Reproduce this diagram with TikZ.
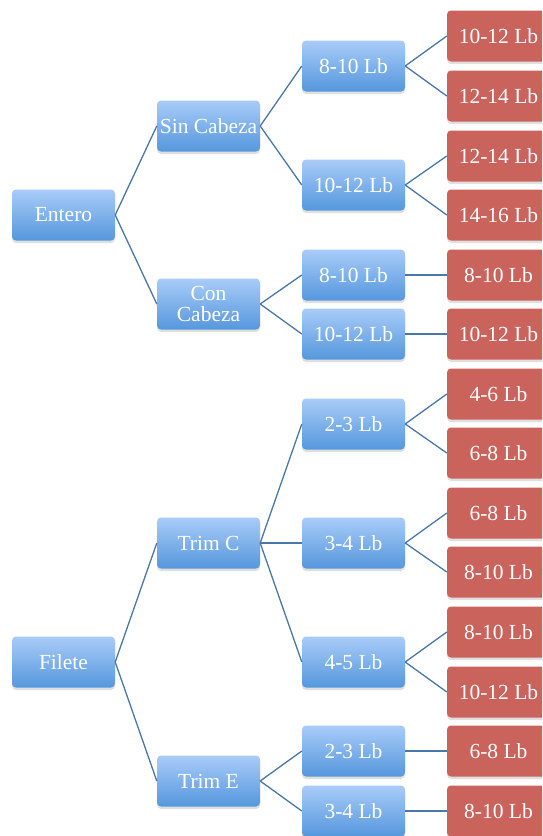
\documentclass[tikz,border=0pt]{standalone}
\usepackage{fontspec}
\setmainfont{Liberation Serif}
\usetikzlibrary{shadows}
\definecolor{bluetop}{HTML}{A9CCF8}
\definecolor{bluebot}{HTML}{5597DD}
\definecolor{redbox}{HTML}{CB635D}
\definecolor{linkcol}{HTML}{4A76A8}
\begin{document}
\begin{tikzpicture}[x=1pt,y=-1pt,
  box/.style={rounded corners=4pt, minimum width=103pt, minimum height=51pt,
    inner sep=1pt, align=center, text=white,
    font=\fontsize{21.5}{21}\selectfont,
    drop shadow={opacity=0.25, shadow xshift=0pt, shadow yshift=-2.5pt}},
  bluebox/.style={box, top color=bluetop, bottom color=bluebot},
  redbox/.style={box, fill=redbox},
  link/.style={draw=linkcol, line width=1.3pt}]
\useasboundingbox (0,0) rectangle (542,836);
\clip (0,0) rectangle (542,836);

% Entero branch
\node[bluebox] (e) at (63.5,215) {Entero};
\node[bluebox] (sc) at (208.5,126) {Sin Cabeza};
\node[bluebox] (cc) at (208.5,304) {Con\\Cabeza};
\node[bluebox] (a1) at (353.5,66) {8-10 Lb};
\node[bluebox] (a2) at (353.5,185) {10-12 Lb};
\node[bluebox] (a3) at (353.5,275) {8-10 Lb};
\node[bluebox] (a4) at (353.5,334) {10-12 Lb};
\node[redbox] (r1) at (498.5,36) {10-12 Lb};
\node[redbox] (r2) at (498.5,96) {12-14 Lb};
\node[redbox] (r3) at (498.5,156) {12-14 Lb};
\node[redbox] (r4) at (498.5,215) {14-16 Lb};
\node[redbox] (r5) at (498.5,275) {8-10 Lb};
\node[redbox] (r6) at (498.5,334) {10-12 Lb};

% Filete branch
\node[bluebox] (f) at (63.5,662) {Filete};
\node[bluebox] (tc) at (208.5,543) {Trim C};
\node[bluebox] (te) at (208.5,781) {Trim E};
\node[bluebox] (b1) at (353.5,424) {2-3 Lb};
\node[bluebox] (b2) at (353.5,543) {3-4 Lb};
\node[bluebox] (b3) at (353.5,662) {4-5 Lb};
\node[bluebox] (b4) at (353.5,751) {2-3 Lb};
\node[bluebox] (b5) at (353.5,811) {3-4 Lb};
\node[redbox] (s1) at (498.5,394) {4-6 Lb};
\node[redbox] (s2) at (498.5,453) {6-8 Lb};
\node[redbox] (s3) at (498.5,513) {6-8 Lb};
\node[redbox] (s4) at (498.5,572) {8-10 Lb};
\node[redbox] (s5) at (498.5,632) {8-10 Lb};
\node[redbox] (s6) at (498.5,692) {10-12 Lb};
\node[redbox] (s7) at (498.5,751) {6-8 Lb};
\node[redbox] (s8) at (498.5,811) {8-10 Lb};

% connectors
\foreach \p/\c in {e/sc, e/cc, sc/a1, sc/a2, cc/a3, cc/a4,
  a1/r1, a1/r2, a2/r3, a2/r4, a3/r5, a4/r6,
  f/tc, f/te, tc/b1, tc/b2, tc/b3, te/b4, te/b5,
  b1/s1, b1/s2, b2/s3, b2/s4, b3/s5, b3/s6, b4/s7, b5/s8}
  \draw[link] (\p.east) -- (\c.west);
\end{tikzpicture}
\end{document}
